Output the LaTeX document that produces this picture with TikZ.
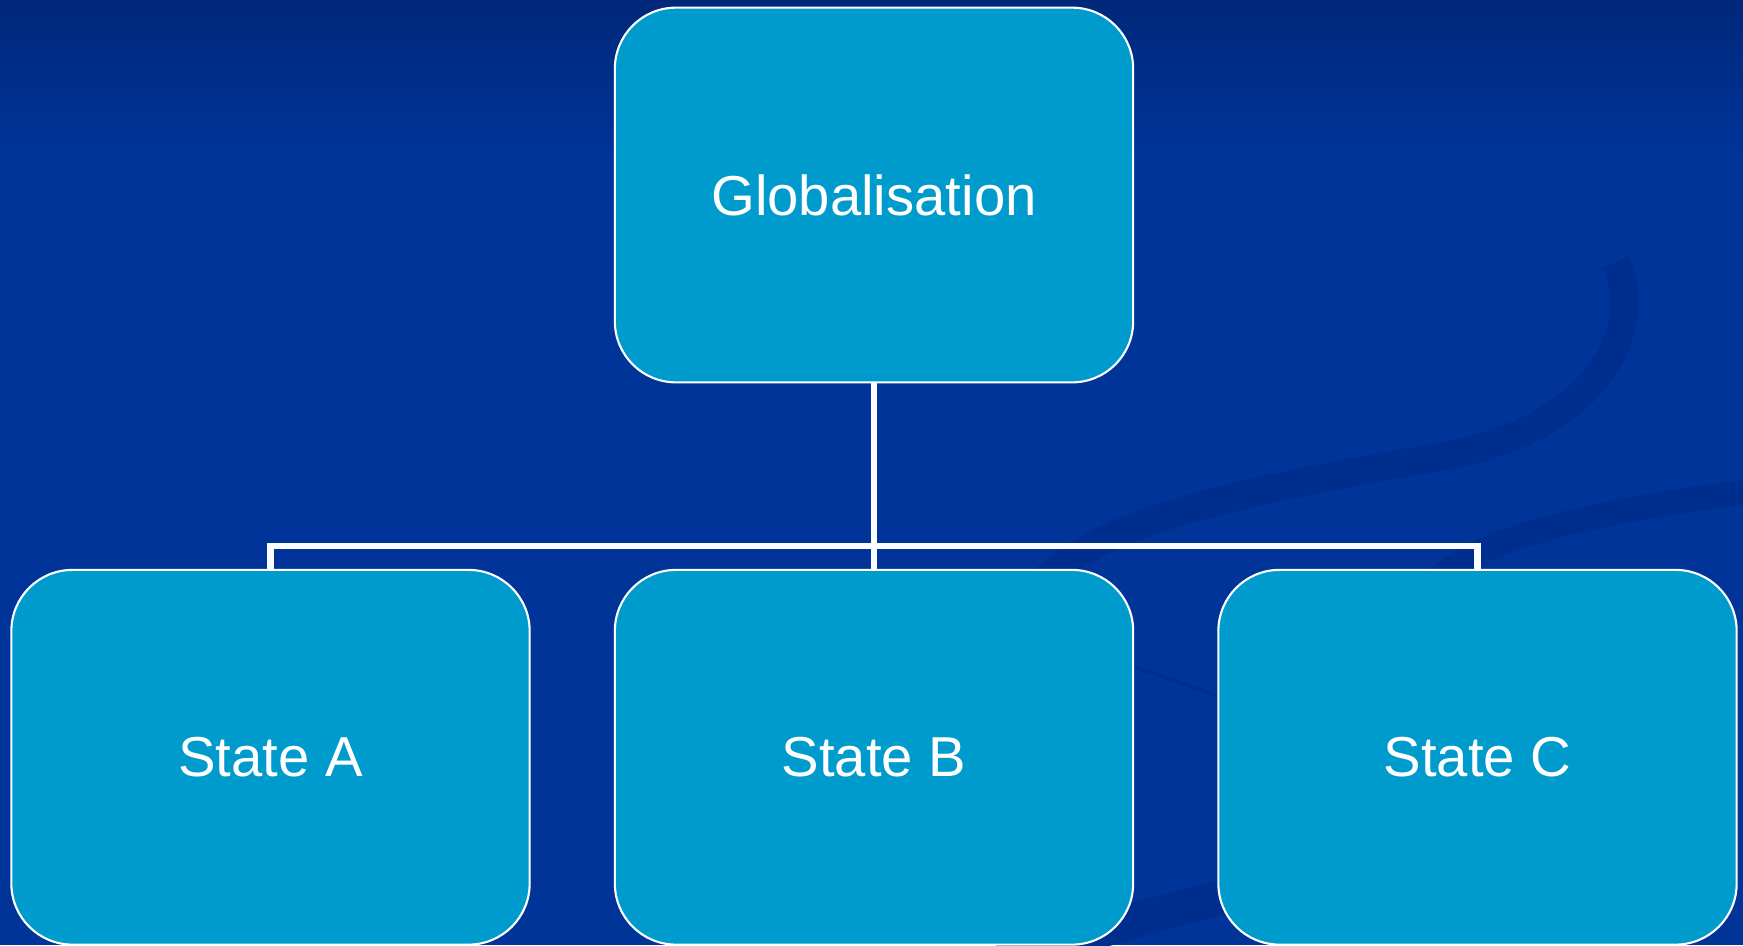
\documentclass[tikz,border=0pt]{standalone}
\usepackage{fontspec}
\setmainfont{Liberation Sans}
\definecolor{bgtop}{RGB}{0,40,122}
\definecolor{bgmain}{RGB}{0,52,153}
\definecolor{swirl}{RGB}{0,46,142}
\definecolor{boxfill}{RGB}{0,155,205}
\tikzset{
  statebox/.style={draw=white, line width=0.6pt, fill=boxfill,
    rounded corners=0.61cm, minimum width=5.18cm, minimum height=3.745cm,
    inner sep=0pt, text=white, font=\fontsize{16}{20}\selectfont},
  link/.style={draw=white, line width=1.8pt}
}
\begin{document}
\begin{tikzpicture}[x=0.01cm, y=-0.01cm]
      \useasboundingbox (0,0) rectangle (1743,945);
      % background
      \fill[bgmain] (0,0) rectangle (1743,945);
      \shade[top color=bgtop, bottom color=bgmain] (0,0) rectangle (1743,160);
      \begin{scope}[swirl]
        \clip (0,0) rectangle (1743,945);
        \draw[line width=8pt] (1028,600) .. controls (1080,520) and (1250,490) .. (1450,455)
          .. controls (1600,425) and (1645,330) .. (1616,262);
        \draw[line width=7pt] (1420,600) .. controls (1450,540) and (1600,510) .. (1760,490);
        \draw[line width=1pt] (1100,655) -- (1230,700);
        \draw[line width=10pt] (1000,960) .. controls (1100,930) and (1200,900) .. (1300,880);
      \end{scope}
      \draw
        (874,195) node[statebox] (g) {Globalisation}
        (270.5,757.25) node[statebox] (a) {State A}
        (874,757.25) node[statebox] (b) {State B}
        (1477.5,757.25) node[statebox] (c) {State C};
      \coordinate (bus) at (874,546);
      \begin{scope}[link]
        \draw (g) to (bus);
        \draw (bus) -| (a);
        \draw (bus) to (b);
        \draw (bus) -| (c);
      \end{scope}
    \end{tikzpicture}
\end{document}
